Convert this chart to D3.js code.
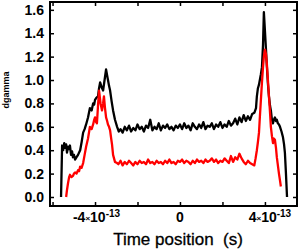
<!DOCTYPE html>
<html>
<head>
<meta charset="utf-8">
<script src="https://cdn.jsdelivr.net/npm/d3@7/dist/d3.min.js"></script>
<style>
  html, body { margin: 0; padding: 0; background: #fff; }
  svg { display: block; }
</style>
</head>
<body>
<svg id="chart" width="300" height="250"></svg>
<script>
// ========= Data (time in units of 1e-13 s) =========
const yTicks = [0.0, 0.2, 0.4, 0.6, 0.8, 1.0, 1.2, 1.4, 1.6];
const xTicks = [-6, -4, -2, 0, 2, 4];
const xTickLabels = [-4, 0, 4];

const blackSeries = [
  [-5.60,0.00],[-5.55,0.44],[-5.50,0.40],[-5.45,0.46],[-5.41,0.42],[-5.36,0.45],[-5.32,0.38],
  [-5.27,0.43],[-5.22,0.41],[-5.18,0.44],[-5.13,0.36],[-5.08,0.39],[-5.04,0.34],[-4.99,0.36],
  [-4.94,0.32],[-4.87,0.34],[-4.80,0.36],[-4.75,0.38],[-4.70,0.40],[-4.63,0.47],[-4.56,0.55],
  [-4.49,0.58],[-4.42,0.62],[-4.33,0.68],[-4.24,0.76],[-4.16,0.74],[-4.09,0.80],[-4.04,0.79],
  [-4.00,0.83],[-3.93,0.85],[-3.86,0.86],[-3.81,0.93],[-3.76,0.98],[-3.69,0.94],[-3.62,0.91],
  [-3.55,1.00],[-3.48,1.09],[-3.43,1.04],[-3.39,1.00],[-3.34,0.95],[-3.29,0.91],[-3.22,0.82],
  [-3.15,0.74],[-3.06,0.66],[-2.96,0.60],[-2.88,0.56],
  [-2.8,0.58],[-2.7,0.55],[-2.6,0.60],[-2.5,0.57],[-2.4,0.61],[-2.3,0.56],[-2.2,0.59],
  [-2.1,0.57],[-2.0,0.62],[-1.9,0.58],[-1.8,0.60],[-1.7,0.56],[-1.6,0.61],[-1.5,0.59],
  [-1.4,0.66],[-1.3,0.57],[-1.2,0.60],[-1.1,0.58],[-1.0,0.63],[-0.9,0.57],[-0.8,0.61],
  [-0.7,0.59],[-0.6,0.62],[-0.5,0.58],[-0.4,0.60],[-0.3,0.57],[-0.2,0.61],[-0.1,0.59],
  [0.0,0.62],[0.1,0.58],[0.2,0.63],[0.3,0.59],[0.4,0.61],[0.5,0.57],[0.6,0.63],[0.7,0.60],
  [0.8,0.58],[0.9,0.62],[1.0,0.59],[1.1,0.64],[1.2,0.58],[1.3,0.61],[1.4,0.60],[1.5,0.63],
  [1.6,0.58],[1.7,0.62],[1.8,0.60],[1.9,0.64],[2.0,0.59],[2.1,0.62],[2.2,0.60],[2.3,0.65],
  [2.4,0.61],[2.5,0.63],[2.6,0.67],[2.7,0.62],[2.8,0.68],[2.9,0.64],[3.0,0.70],[3.1,0.65],
  [3.2,0.69],[3.3,0.66],[3.4,0.71],
  [3.50,0.72],[3.58,0.76],[3.62,0.86],[3.67,0.93],[3.72,0.96],[3.76,1.00],[3.81,1.05],
  [3.86,1.11],[3.91,1.30],[3.95,1.58],[4.00,1.42],[4.05,1.26],[4.09,1.12],[4.14,0.97],
  [4.19,0.86],[4.24,0.78],[4.28,0.74],[4.33,0.66],[4.38,0.63],[4.42,0.66],[4.47,0.68],
  [4.52,0.65],[4.56,0.66],[4.61,0.63],[4.66,0.62],[4.71,0.60],[4.78,0.56],[4.85,0.51],
  [4.90,0.45],[4.94,0.38],[4.99,0.20],[5.04,0.00]
];

const redSeries = [
  [-5.36,0.00],[-5.32,0.06],[-5.27,0.12],[-5.22,0.17],[-5.18,0.19],[-5.11,0.17],[-5.04,0.18],
  [-4.99,0.20],[-4.94,0.21],[-4.87,0.20],[-4.80,0.23],[-4.75,0.22],[-4.70,0.26],[-4.63,0.25],
  [-4.56,0.29],[-4.49,0.36],[-4.42,0.43],[-4.33,0.50],[-4.24,0.60],[-4.16,0.58],[-4.09,0.62],
  [-4.04,0.66],[-4.00,0.68],[-3.95,0.64],[-3.91,0.63],[-3.86,0.78],[-3.81,0.91],[-3.74,0.80],
  [-3.67,0.74],[-3.62,0.80],[-3.58,0.86],[-3.53,0.76],[-3.48,0.68],[-3.43,0.65],[-3.39,0.62],
  [-3.34,0.60],[-3.29,0.57],[-3.24,0.50],[-3.20,0.45],[-3.15,0.36],[-3.06,0.30],[-2.96,0.29],
  [-2.9,0.28],[-2.8,0.31],[-2.7,0.27],[-2.6,0.30],[-2.5,0.28],[-2.4,0.31],[-2.3,0.29],
  [-2.2,0.27],[-2.1,0.30],[-2.0,0.28],[-1.9,0.31],[-1.8,0.29],[-1.7,0.30],[-1.6,0.28],
  [-1.5,0.32],[-1.4,0.29],[-1.3,0.30],[-1.2,0.28],[-1.1,0.31],[-1.0,0.29],[-0.9,0.30],
  [-0.8,0.28],[-0.7,0.31],[-0.6,0.29],[-0.5,0.32],[-0.4,0.29],[-0.3,0.30],[-0.2,0.28],
  [-0.1,0.31],[0.0,0.30],[0.1,0.32],[0.2,0.29],[0.3,0.31],[0.4,0.30],[0.5,0.28],[0.6,0.31],
  [0.7,0.29],[0.8,0.32],[0.9,0.30],[1.0,0.31],[1.1,0.29],[1.2,0.32],[1.3,0.30],[1.4,0.31],
  [1.5,0.33],[1.6,0.30],[1.7,0.32],[1.8,0.29],[1.9,0.31],[2.0,0.30],[2.1,0.33],[2.2,0.31],
  [2.3,0.29],[2.4,0.35],[2.5,0.30],[2.6,0.34],[2.7,0.32],[2.8,0.37],[2.9,0.33],[3.0,0.30],
  [3.1,0.28],[3.2,0.31],[3.3,0.29],[3.4,0.28],
  [3.50,0.27],[3.56,0.33],[3.62,0.40],[3.67,0.47],[3.72,0.55],[3.76,0.68],[3.81,0.83],
  [3.86,0.98],[3.91,1.11],[3.95,1.20],[4.00,1.26],[4.05,1.22],[4.09,1.14],[4.14,1.00],
  [4.19,0.86],[4.24,0.72],[4.28,0.60],[4.33,0.52],[4.38,0.46],[4.42,0.50],[4.47,0.49],
  [4.52,0.42],[4.56,0.34],[4.61,0.27],[4.66,0.20],[4.71,0.14],[4.75,0.09]
];

// ========= Layout =========
const svg = d3.select("#chart");
const plot = { left: 50, right: 297, top: 2, bottom: 206 };
const font = "'Liberation Sans', Arial, sans-serif";

const x = d3.scaleLinear().domain([-6.12, 5.51]).range([plot.left, plot.right]);
const y = d3.scaleLinear().domain([-0.077, 1.667]).range([plot.bottom, plot.top]);

// ========= Lines =========
const line = d3.line().x(d => x(d[0])).y(d => y(d[1]));

svg.append("path")
  .datum(blackSeries)
  .attr("d", line)
  .attr("fill", "none")
  .attr("stroke", "#000")
  .attr("stroke-width", 2.3)
  .attr("stroke-linejoin", "round");

svg.append("path")
  .datum(redSeries)
  .attr("d", line)
  .attr("fill", "none")
  .attr("stroke", "#ff0000")
  .attr("stroke-width", 2.3)
  .attr("stroke-linejoin", "round");

// ========= Axes (IDL-style box with inward ticks) =========
const tickLen = 4;

const axLeft = svg.append("g").attr("transform", `translate(${plot.left},0)`)
  .call(d3.axisLeft(y).tickValues(yTicks).tickSize(-tickLen).tickPadding(6).tickFormat(d3.format(".1f")));
const axRight = svg.append("g").attr("transform", `translate(${plot.right},0)`)
  .call(d3.axisRight(y).tickValues(yTicks).tickSize(-tickLen).tickFormat(""));
const axBottom = svg.append("g").attr("transform", `translate(0,${plot.bottom})`)
  .call(d3.axisBottom(x).tickValues(xTicks).tickSize(-tickLen).tickFormat(""));
const axTop = svg.append("g").attr("transform", `translate(0,${plot.top})`)
  .call(d3.axisTop(x).tickValues(xTicks).tickSize(-tickLen).tickFormat(""));

[axLeft, axRight, axBottom, axTop].forEach(ax => {
  ax.select(".domain").remove();
  ax.selectAll(".tick line").attr("stroke", "#000").attr("stroke-width", 1.5);
});

axLeft.selectAll(".tick text")
  .attr("font-family", font)
  .attr("font-weight", "bold")
  .attr("font-size", 14)
  .attr("fill", "#000");

// frame
svg.append("rect")
  .attr("x", plot.left)
  .attr("y", plot.top)
  .attr("width", plot.right - plot.left)
  .attr("height", plot.bottom - plot.top)
  .attr("fill", "none")
  .attr("stroke", "#000")
  .attr("stroke-width", 2);

// x tick labels like "4×10⁻¹³"
const xl = svg.append("g").selectAll("text")
  .data(xTickLabels)
  .join("text")
  .attr("x", d => x(d) + (d === 0 ? 0 : d < 0 ? 1.5 : 5))
  .attr("y", 222)
  .attr("text-anchor", "middle")
  .attr("font-family", font)
  .attr("font-weight", "bold")
  .attr("font-size", 14)
  .attr("fill", "#000");

xl.each(function(d) {
  const t = d3.select(this);
  if (d === 0) { t.text("0"); return; }
  t.append("tspan").text(`${d}`);
  t.append("tspan").attr("font-size", 8).attr("dy", -1).text("×");
  t.append("tspan").attr("dy", 1).text("10");
  t.append("tspan").attr("font-size", 10).attr("dy", -5).text("-13");
});

// axis titles
svg.append("text")
  .attr("x", 178)
  .attr("y", 245)
  .attr("text-anchor", "middle")
  .attr("font-family", font)
  .attr("font-size", 17)
  .attr("fill", "#000")
  .attr("stroke", "#000")
  .attr("stroke-width", 0.3)
  .attr("xml:space", "preserve")
  .text("Time position  (s)");

svg.append("text")
  .attr("transform", "translate(9,90) rotate(-90)")
  .attr("text-anchor", "middle")
  .attr("font-family", font)
  .attr("font-weight", "bold")
  .attr("font-size", 9)
  .attr("fill", "#000")
  .text("dgamma");
</script>
</body>
</html>
